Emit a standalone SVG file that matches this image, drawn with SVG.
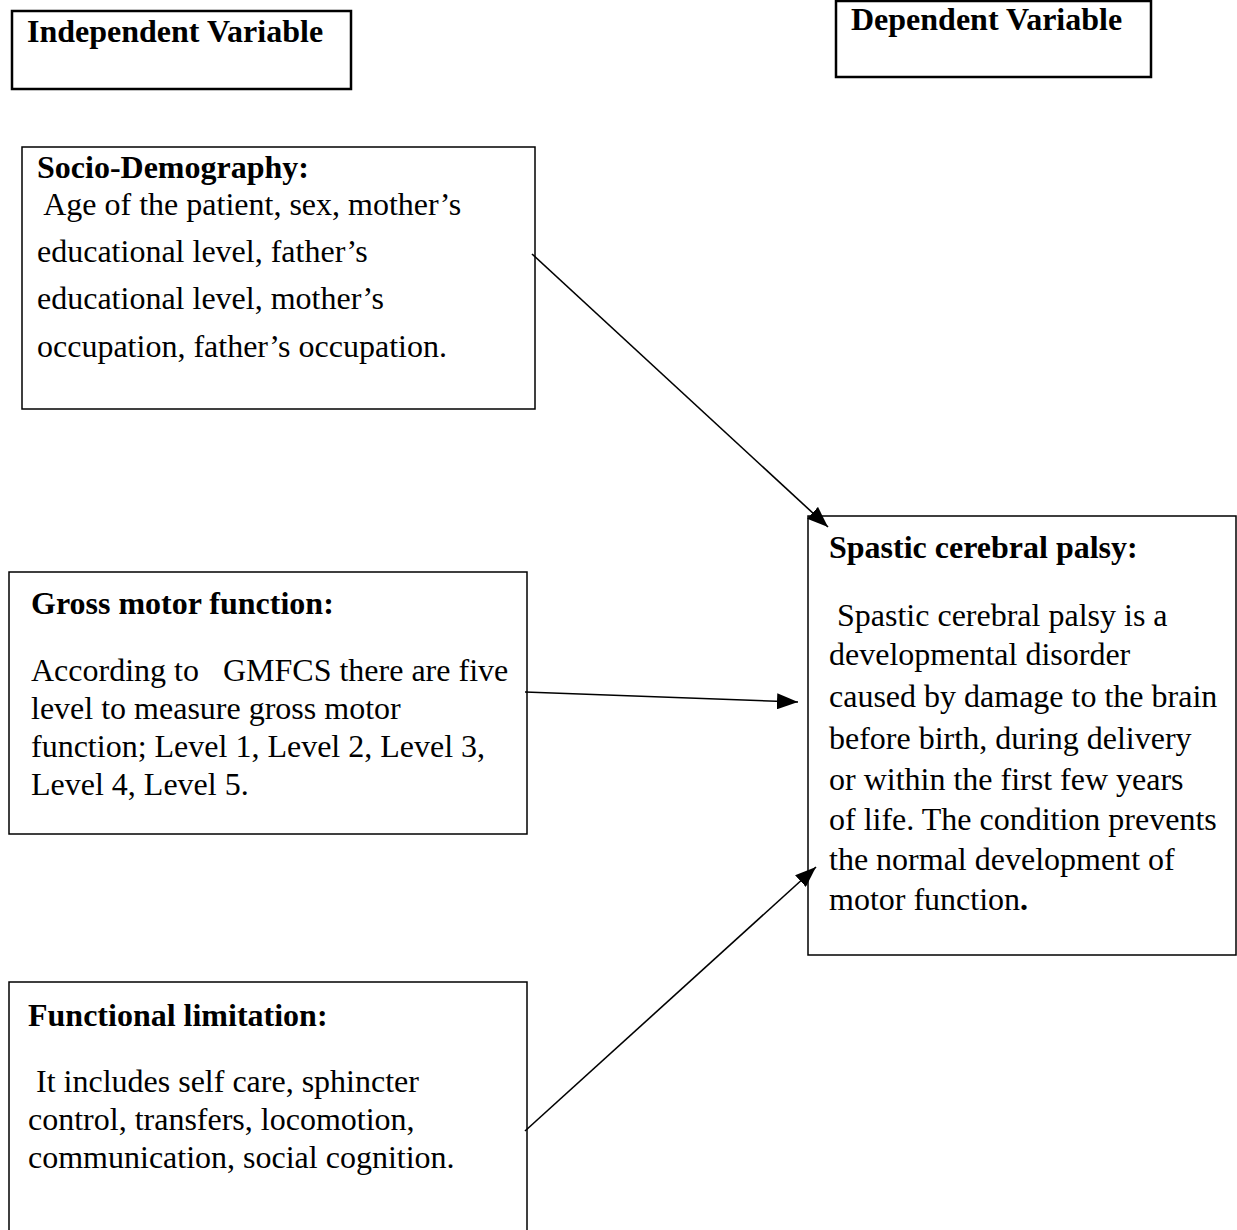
<svg xmlns="http://www.w3.org/2000/svg" width="1237" height="1230" viewBox="0 0 1237 1230">
<defs>
<style>
.box{fill:#fff;stroke:#000;stroke-width:1.5}
.thick{stroke-width:2.5}
text{font-family:"Liberation Serif","Times New Roman",serif;font-size:32px;fill:#000;white-space:pre}
.b{font-weight:bold}
.conn{stroke:#000;stroke-width:1.6;fill:none}
</style>
<marker id="ah" markerUnits="userSpaceOnUse" markerWidth="22" markerHeight="16" refX="21" refY="8" orient="auto">
<path d="M0,0 L21,8 L0,16 z" fill="#000"/>
</marker>
</defs>
<rect width="1237" height="1230" fill="#fff"/>
<g id="independent">
<rect class="box thick" x="12" y="11" width="339" height="78"/>
<text class="b" x="27" y="42">Independent Variable</text>
</g>
<g id="dependent">
<rect class="box thick" x="836" y="1" width="315" height="76"/>
<text class="b" x="851" y="30">Dependent Variable</text>
</g>
<g id="socio">
<rect class="box" x="22" y="147" width="513" height="262"/>
<text class="b" x="37" y="178">Socio-Demography:</text>
<text x="37" y="215"> Age of the patient, sex, mother’s</text>
<text x="37" y="262">educational level, father’s</text>
<text x="37" y="309">educational level, mother’s</text>
<text x="37" y="357">occupation, father’s occupation.</text>
</g>
<g id="gross">
<rect class="box" x="9" y="572" width="518" height="262"/>
<text class="b" x="31" y="614">Gross motor function:</text>
<text x="31" y="681">According to   GMFCS there are five</text>
<text x="31" y="719">level to measure gross motor</text>
<text x="31" y="757">function; Level 1, Level 2, Level 3,</text>
<text x="31" y="795">Level 4, Level 5.</text>
</g>
<g id="functional">
<rect class="box" x="9" y="982" width="518" height="260"/>
<text class="b" x="28" y="1026">Functional limitation:</text>
<text x="28" y="1092"> It includes self care, sphincter</text>
<text x="28" y="1130">control, transfers, locomotion,</text>
<text x="28" y="1168">communication, social cognition.</text>
</g>
<g id="spastic">
<rect class="box" x="808" y="516" width="428" height="439"/>
<text class="b" x="829" y="558">Spastic cerebral palsy:</text>
<text x="829" y="626"> Spastic cerebral palsy is a</text>
<text x="829" y="665">developmental disorder</text>
<text x="829" y="707">caused by damage to the brain</text>
<text x="829" y="749">before birth, during delivery</text>
<text x="829" y="790">or within the first few years</text>
<text x="829" y="830">of life. The condition prevents</text>
<text x="829" y="870">the normal development of</text>
<text x="829" y="910">motor function<tspan class="b">.</tspan></text>
</g>
<g id="connectors">
<line class="conn" x1="532" y1="254" x2="828" y2="527" marker-end="url(#ah)"/>
<line class="conn" x1="525" y1="692" x2="798" y2="702" marker-end="url(#ah)"/>
<line class="conn" x1="525" y1="1131" x2="816" y2="867" marker-end="url(#ah)"/>
</g>
</svg>
